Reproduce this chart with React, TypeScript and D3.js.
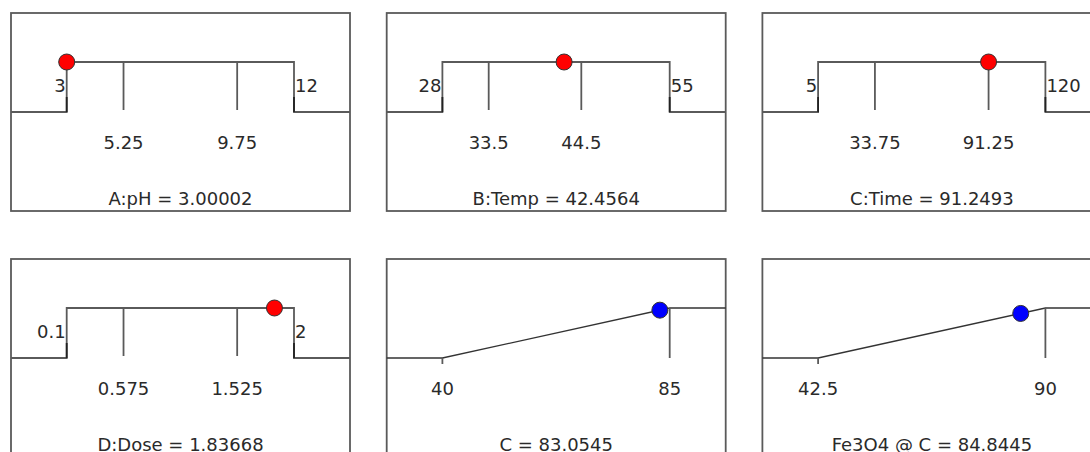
import React from "react";
import * as d3 from "d3";

// factor panels (top row + first of bottom row)
const factorNames = ["A:pH", "B:Temp", "C:Time", "D:Dose"];
const factorLow = [3, 28, 5, 0.1];
const factorHigh = [12, 55, 120, 2];
const factorTicks = [
	[5.25, 9.75],
	[33.5, 44.5],
	[33.75, 91.25],
	[0.575, 1.525],
];
const factorValues = [3.00002, 42.4564, 91.2493, 1.83668];
const factorLabels = ["3.00002", "42.4564", "91.2493", "1.83668"];

// response panels
const responseNames = ["C", "Fe3O4 @ C"];
const responseLow = [40, 42.5];
const responseHigh = [85, 90];
const responseValues = [83.0545, 84.8445];
const responseLabels = ["83.0545", "84.8445"];

const W = 1090;
const H = 452;
const panelW = 339;
const panelH = 198;
const colStep = 375.7;
const rowStep = 246;
const topY = 49;
const baseY = 99;
const lineColor = "#5a5a5a";
const textColor = "#2a2a2a";
const font = "'DejaVu Sans', Verdana, sans-serif";

function Panel(props) {
	const { x0, y0, children } = props;
	return (
		<g transform={`translate(${x0},${y0})`}>
			<rect
				x={0}
				y={0}
				width={panelW}
				height={panelH}
				fill="white"
				stroke={lineColor}
				strokeWidth={1.8}
			/>
			{children}
		</g>
	);
}

function FactorPanel(props) {
	const { i, x0, y0 } = props;
	const lo = factorLow[i];
	const hi = factorHigh[i];
	const x = d3.scaleLinear().domain([lo, hi]).range([55.7, 283]);
	const line = d3.line();
	const step = line([
		[0, baseY],
		[x(lo), baseY],
		[x(lo), topY],
		[x(hi), topY],
		[x(hi), baseY],
		[panelW, baseY],
	]);
	return (
		<Panel x0={x0} y0={y0}>
			<path d={step} fill="none" stroke={lineColor} strokeWidth={1.8} />
			{[lo, hi].map((v, k) => (
				<line
					key={k}
					x1={x(v)}
					x2={x(v)}
					y1={baseY - 15}
					y2={baseY}
					stroke="#222"
					strokeWidth={1.8}
				/>
			))}
			{factorTicks[i].map((t, k) => (
				<g key={k}>
					<line
						x1={x(t)}
						x2={x(t)}
						y1={topY}
						y2={baseY - 2}
						stroke={lineColor}
						strokeWidth={1.8}
					/>
					<text x={x(t)} y={136} textAnchor="middle">
						{t}
					</text>
				</g>
			))}
			<text x={x(lo) - 1} y={79} textAnchor="end">
				{lo}
			</text>
			<text x={x(hi) + 1} y={79} textAnchor="start">
				{hi}
			</text>
			<text x={panelW / 2} y={192} textAnchor="middle">
				{`${factorNames[i]} = ${factorLabels[i]}`}
			</text>
			<circle
				cx={x(factorValues[i])}
				cy={topY}
				r={8}
				fill="#ff0000"
				stroke="#333"
				strokeWidth={1}
			/>
		</Panel>
	);
}

function ResponsePanel(props) {
	const { i, x0, y0 } = props;
	const lo = responseLow[i];
	const hi = responseHigh[i];
	const x = d3.scaleLinear().domain([lo, hi]).range([55.7, 283]);
	const y = d3.scaleLinear().domain([lo, hi]).range([baseY, topY]);
	const line = d3.line();
	const ramp = line([
		[0, y(lo)],
		[x(lo), y(lo)],
		[x(hi), y(hi)],
		[panelW, y(hi)],
	]);
	const v = responseValues[i];
	return (
		<Panel x0={x0} y0={y0}>
			<path d={ramp} fill="none" stroke="#333" strokeWidth={1.3} />
			<line
				x1={x(lo)}
				x2={x(lo)}
				y1={baseY}
				y2={baseY + 6}
				stroke={lineColor}
				strokeWidth={1.8}
			/>
			<line
				x1={x(hi)}
				x2={x(hi)}
				y1={topY}
				y2={baseY}
				stroke={lineColor}
				strokeWidth={1.8}
			/>
			<text x={x(lo)} y={136} textAnchor="middle">
				{lo}
			</text>
			<text x={x(hi)} y={136} textAnchor="middle">
				{hi}
			</text>
			<text x={panelW / 2} y={192} textAnchor="middle">
				{`${responseNames[i]} = ${responseLabels[i]}`}
			</text>
			<circle
				cx={x(v)}
				cy={y(v)}
				r={8}
				fill="#0000ff"
				stroke="#333"
				strokeWidth={1}
			/>
		</Panel>
	);
}

export default function App() {
	const pos = (k) => ({ x0: 11 + (k % 3) * colStep, y0: 13 + Math.floor(k / 3) * rowStep });
	return (
		<svg
			width={W}
			height={H}
			style={{ position: "absolute", left: 0, top: 0, background: "white" }}
			fontFamily={font}
			fontSize={18}
			fill={textColor}
		>
			{factorNames.map((n, i) => (
				<FactorPanel key={n} i={i} {...pos(i)} />
			))}
			{responseNames.map((n, i) => (
				<ResponsePanel key={n} i={i} {...pos(i + 4)} />
			))}
		</svg>
	);
}
